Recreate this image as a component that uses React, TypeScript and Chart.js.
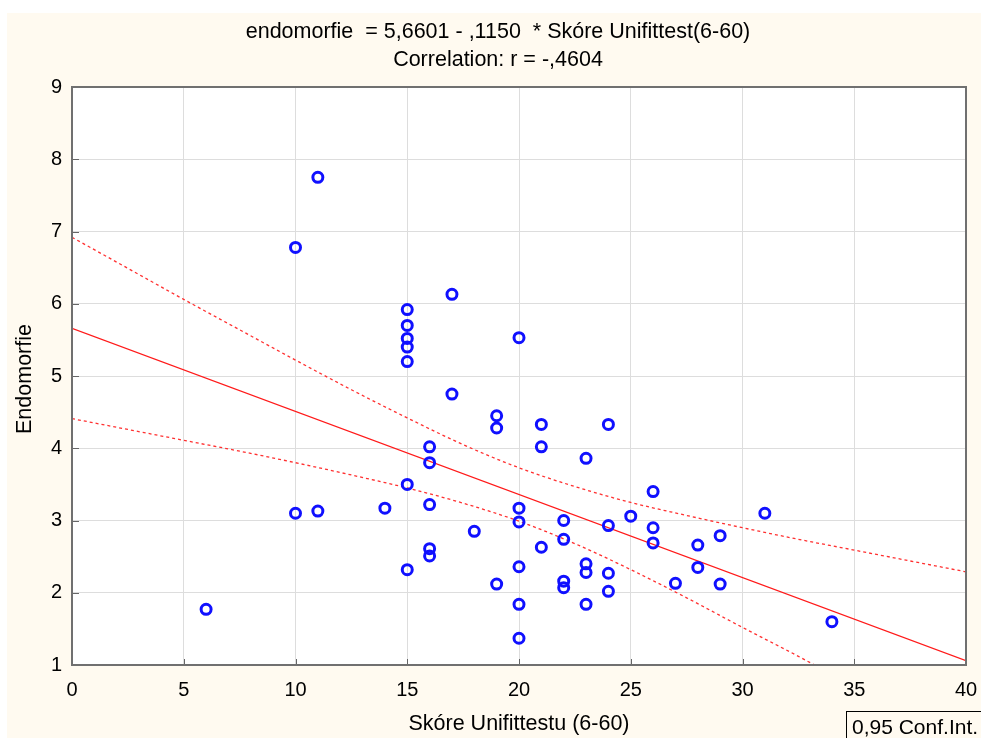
import React, { useEffect, useRef } from 'react';
import { Chart, registerables } from 'chart.js';

Chart.register(...registerables);

// Scatter data: Skóre Unifittestu (x) vs Endomorfie (y)
const scoreX = [6, 10, 10, 11, 11, 14, 15, 15, 15, 15, 15, 15, 15, 16, 16, 16, 16, 16, 17, 17, 18, 19, 19, 19,
  20, 20, 20, 20, 20, 20, 21, 21, 21, 22, 22, 22, 22, 23, 23, 23, 23, 24, 24, 24, 24, 25, 26, 26, 26, 27, 28, 28, 29, 29, 31, 34];
const endoY = [1.77, 6.78, 3.10, 7.75, 3.13, 3.17, 5.92, 5.70, 5.52, 5.40, 5.20, 3.50, 2.32, 4.02, 3.80, 3.22, 2.61, 2.51, 6.13, 4.75, 2.85, 4.45, 4.28, 2.12,
  5.53, 3.17, 2.98, 2.36, 1.84, 1.37, 4.33, 4.02, 2.63, 3.00, 2.74, 2.16, 2.07, 3.86, 2.40, 2.28, 1.84, 4.33, 2.93, 2.27, 2.02, 3.06, 3.40, 2.90, 2.69, 2.13, 2.66, 2.35, 2.79, 2.12, 3.10, 1.60];

// Fitted line: endomorfie = 5,6601 - ,1150 * x
const fitX = [0, 40];
const fitY = [5.6601, 1.0601];

// 0,95 confidence band
const ciX = [0, 2.5, 5, 7.5, 10, 12.5, 15, 17.5, 20, 22.5, 25, 27.5, 30, 32.5, 35, 37.5, 40];
const ciUpper = [6.92, 6.49, 6.06, 5.64, 5.22, 4.81, 4.42, 4.05, 3.73, 3.47, 3.25, 3.07, 2.90, 2.74, 2.59, 2.44, 2.29];
const ciLower = [4.41, 4.26, 4.11, 3.96, 3.80, 3.63, 3.45, 3.24, 2.99, 2.68, 2.32, 1.93, 1.52, 1.12, 0.70, 0.28, -0.15];

const titleLine1 = 'endomorfie  = 5,6601 - ,1150  * Skóre Unifittest(6-60)';
const titleLine2 = 'Correlation: r = -,4604';
const xTitle = 'Skóre Unifittestu (6-60)';
const yTitle = 'Endomorfie';
const legendText = '0,95 Conf.Int.';

const FONT = '"Liberation Sans", Arial, sans-serif';

export default function App() {
  const ref = useRef<HTMLCanvasElement | null>(null);

  useEffect(() => {
    const canvas = ref.current;
    if (!canvas) return;

    const decor = {
      id: 'decor',
      beforeDraw(chart: any) {
        const { ctx, chartArea: a, width, height } = chart;
        ctx.save();
        ctx.fillStyle = '#fffaf0';
        ctx.fillRect(0, 0, width, height);
        ctx.fillStyle = '#ffffff';
        ctx.fillRect(a.left, a.top, a.right - a.left, a.bottom - a.top);
        ctx.restore();
      },
      afterDraw(chart: any) {
        const { ctx, chartArea: a } = chart;
        const xs = chart.scales.x;
        const ys = chart.scales.y;
        ctx.save();
        // inward tick marks
        ctx.strokeStyle = '#666666';
        ctx.lineWidth = 1;
        for (let v = 5; v < 40; v += 5) {
          const px = Math.round(xs.getPixelForValue(v)) + 0.5;
          ctx.beginPath();
          ctx.moveTo(px, a.bottom);
          ctx.lineTo(px, a.bottom - 6);
          ctx.stroke();
        }
        for (let v = 2; v < 9; v += 1) {
          const py = Math.round(ys.getPixelForValue(v)) + 0.5;
          ctx.beginPath();
          ctx.moveTo(a.left, py);
          ctx.lineTo(a.left + 7, py);
          ctx.stroke();
        }
        // frame
        ctx.strokeStyle = '#707070';
        ctx.lineWidth = 2;
        ctx.strokeRect(a.left, a.top, a.right - a.left, a.bottom - a.top);

        // titles
        ctx.fillStyle = '#000000';
        ctx.textAlign = 'center';
        ctx.textBaseline = 'middle';
        ctx.font = `21.5px ${FONT}`;
        ctx.fillText(titleLine1, 491, 19);
        ctx.fillText(titleLine2, 491, 47);
        ctx.fillText(xTitle, (a.left + a.right) / 2, 711);
        ctx.save();
        ctx.translate(18, 366);
        ctx.rotate(-Math.PI / 2);
        ctx.fillText(yTitle, 0, 0);
        ctx.restore();

        // legend box
        ctx.fillStyle = '#fffaf0';
        ctx.fillRect(839, 698, 150, 40);
        ctx.strokeStyle = '#000000';
        ctx.lineWidth = 1;
        ctx.strokeRect(839.5, 698.5, 150, 40);
        ctx.fillStyle = '#000000';
        ctx.textAlign = 'left';
        ctx.textBaseline = 'alphabetic';
        ctx.font = `21px ${FONT}`;
        ctx.fillText(legendText, 845, 721);
        ctx.restore();
      },
    };

    const chart = new Chart(canvas, {
      type: 'scatter',
      data: {
        datasets: [
          {
            label: 'Endomorfie',
            data: scoreX.map((x, i) => ({ x, y: endoY[i] })),
            pointRadius: 5,
            pointHoverRadius: 5,
            pointBorderWidth: 3,
            borderColor: '#1010ff',
            backgroundColor: 'rgba(0,0,0,0)',
            showLine: false,
            order: 0,
          },
          {
            label: 'fit',
            data: fitX.map((x, i) => ({ x, y: fitY[i] })),
            showLine: true,
            pointRadius: 0,
            borderColor: '#ff1a1a',
            borderWidth: 1.3,
            clip: 0,
            order: 1,
          },
          {
            label: 'upper',
            data: ciX.map((x, i) => ({ x, y: ciUpper[i] })),
            showLine: true,
            pointRadius: 0,
            borderColor: '#ff3030',
            borderWidth: 1.3,
            borderDash: [3, 3],
            cubicInterpolationMode: 'monotone',
            clip: 0,
            order: 1,
          },
          {
            label: 'lower',
            data: ciX.map((x, i) => ({ x, y: ciLower[i] })),
            showLine: true,
            pointRadius: 0,
            borderColor: '#ff3030',
            borderWidth: 1.3,
            borderDash: [3, 3],
            cubicInterpolationMode: 'monotone',
            clip: 0,
            order: 1,
          },
        ],
      },
      options: {
        animation: false,
        responsive: false,
        maintainAspectRatio: false,
        layout: { padding: { top: 74, right: 15, left: 0, bottom: 0 } },
        plugins: {
          legend: { display: false },
          tooltip: { enabled: false },
          title: { display: false },
        },
        scales: {
          x: {
            type: 'linear',
            min: 0,
            max: 40,
            afterFit: (s: any) => {
              s.height = 73;
              s.paddingLeft = 0;
              s.paddingRight = 0;
            },
            grid: { color: '#dddddd', lineWidth: 1, drawTicks: false },
            border: { display: false },
            ticks: {
              stepSize: 5,
              padding: 13,
              color: '#000000',
              font: { family: FONT, size: 20 },
            },
          },
          y: {
            type: 'linear',
            min: 1,
            max: 9,
            afterFit: (s: any) => {
              s.width = 65;
              s.paddingTop = 0;
              s.paddingBottom = 0;
            },
            grid: { color: '#dddddd', lineWidth: 1, drawTicks: false },
            border: { display: false },
            ticks: {
              stepSize: 1,
              padding: 10,
              color: '#000000',
              font: { family: FONT, size: 20 },
            },
          },
        },
      },
      plugins: [decor],
    } as any);

    return () => chart.destroy();
  }, []);

  return (
    <div style={{ position: 'fixed', left: 7, top: 13, width: 974, height: 725 }}>
      <canvas ref={ref} width={974} height={725} style={{ width: 974, height: 725, display: 'block' }} />
    </div>
  );
}
